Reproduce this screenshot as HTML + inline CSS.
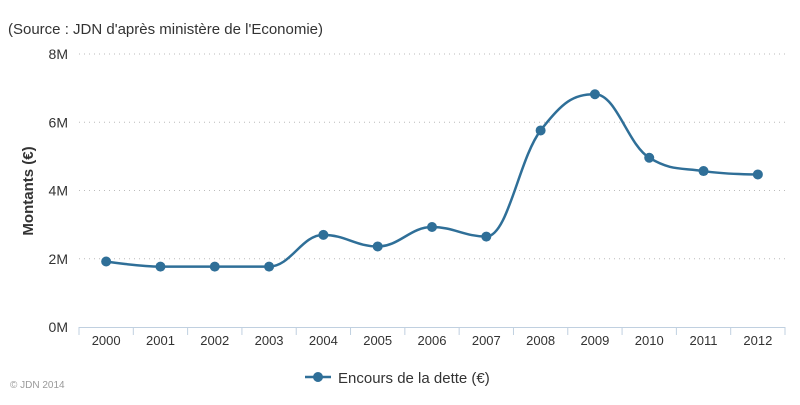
<!DOCTYPE html>
<html><head><meta charset="utf-8"><style>
body{margin:0;background:#fff;font-family:"Liberation Sans",sans-serif}
svg text{font-family:"Liberation Sans",sans-serif}
</style></head><body>
<svg id="c" width="800" height="400">
<text x="8" y="34" font-size="15" fill="#333">(Source : JDN d'après ministère de l'Economie)</text>
<text x="10" y="388" font-size="10" fill="#999">© JDN 2014</text>
<text transform="translate(33,191) rotate(-90)" text-anchor="middle" font-size="15" font-weight="bold" fill="#333">Montants (€)</text>
<g id="grid"></g><g id="xaxis"></g><g id="series"></g>
<g>
<line x1="305" y1="377" x2="331" y2="377" stroke="#2f6f98" stroke-width="2.5"/>
<circle cx="318" cy="377" r="5" fill="#2f6f98"/>
<text x="338" y="383" font-size="15" fill="#333">Encours de la dette (€)</text>
</g>
</svg>
<script>
const categories=["2000","2001","2002","2003","2004","2005","2006","2007","2008","2009","2010","2011","2012"];
const values=[1.92,1.77,1.77,1.77,2.70,2.36,2.93,2.65,5.76,6.82,4.96,4.57,4.47];
const yTicks=[0,2,4,6,8];
const yTickLabels=["0M","2M","4M","6M","8M"];
const NS="http://www.w3.org/2000/svg";
const L=79,R=785,T=54,B=327;
const bw=(R-L)/categories.length;
const xs=i=>L+bw*(i+0.5);
const ys=v=>B-(v/8)*(B-T);
function mk(t,a,p){const e=document.createElementNS(NS,t);for(const k in a)e.setAttribute(k,a[k]);p.appendChild(e);return e;}
const grid=document.getElementById('grid');
yTicks.forEach((t,i)=>{
  if(t>0){const g=mk('line',{x1:L,x2:R,y1:ys(t),y2:ys(t),stroke:'#bbb','stroke-dasharray':'1,4'},grid);
  
  }
  const tx=mk('text',{x:68,y:ys(t)+5,'text-anchor':'end','font-size':14,fill:'#333'},grid);tx.textContent=yTickLabels[i];
  
  
});
const xa=document.getElementById('xaxis');
mk('line',{x1:L,x2:R,y1:B+0.5,y2:B+0.5,stroke:'#c0d0e0'},xa);
for(let i=0;i<=categories.length;i++){mk('line',{x1:L+bw*i,x2:L+bw*i,y1:B,y2:B+8,stroke:'#c0d0e0'},xa);}
categories.forEach((c,i)=>{const t=mk('text',{x:xs(i),y:B+18,'text-anchor':'middle','font-size':13,fill:'#333'},xa);t.textContent=c;
  
  });
const pts=values.map((v,i)=>[xs(i),ys(v)]);
let d='M'+pts[0][0]+','+pts[0][1];
const sm=1.5,den=sm+1;
function ctrl(i){
  const p=pts[i],a=pts[i-1],n=pts[i+1];
  if(!a||!n)return null;
  let lx=(sm*p[0]+a[0])/den,ly=(sm*p[1]+a[1])/den,rx=(sm*p[0]+n[0])/den,ry=(sm*p[1]+n[1])/den;
  let corr=0;if(rx!==lx)corr=((ry-ly)*(rx-p[0]))/(rx-lx)+p[1]-ry;
  ly+=corr;ry+=corr;
  if(ly>a[1]&&ly>p[1]){ly=Math.max(a[1],p[1]);ry=2*p[1]-ly;}else if(ly<a[1]&&ly<p[1]){ly=Math.min(a[1],p[1]);ry=2*p[1]-ly;}
  if(ry>n[1]&&ry>p[1]){ry=Math.max(n[1],p[1]);ly=2*p[1]-ry;}else if(ry<n[1]&&ry<p[1]){ry=Math.min(n[1],p[1]);ly=2*p[1]-ry;}
  return {l:[lx,ly],r:[rx,ry]};
}
const cs=pts.map((_,i)=>ctrl(i));
for(let i=1;i<pts.length;i++){
  const c1=cs[i-1]?cs[i-1].r:pts[i-1],c2=cs[i]?cs[i].l:pts[i];
  d+=` C${c1[0]},${c1[1]} ${c2[0]},${c2[1]} ${pts[i][0]},${pts[i][1]}`;
}
const sg=document.getElementById('series');
const path=mk('path',{d:d,fill:'none',stroke:'#2f6f98','stroke-width':2.5},sg);


pts.forEach((p,i)=>{const c=mk('circle',{cx:p[0],cy:p[1],r:5,fill:'#2f6f98'},sg);
  
  });
</script>
</body></html>
